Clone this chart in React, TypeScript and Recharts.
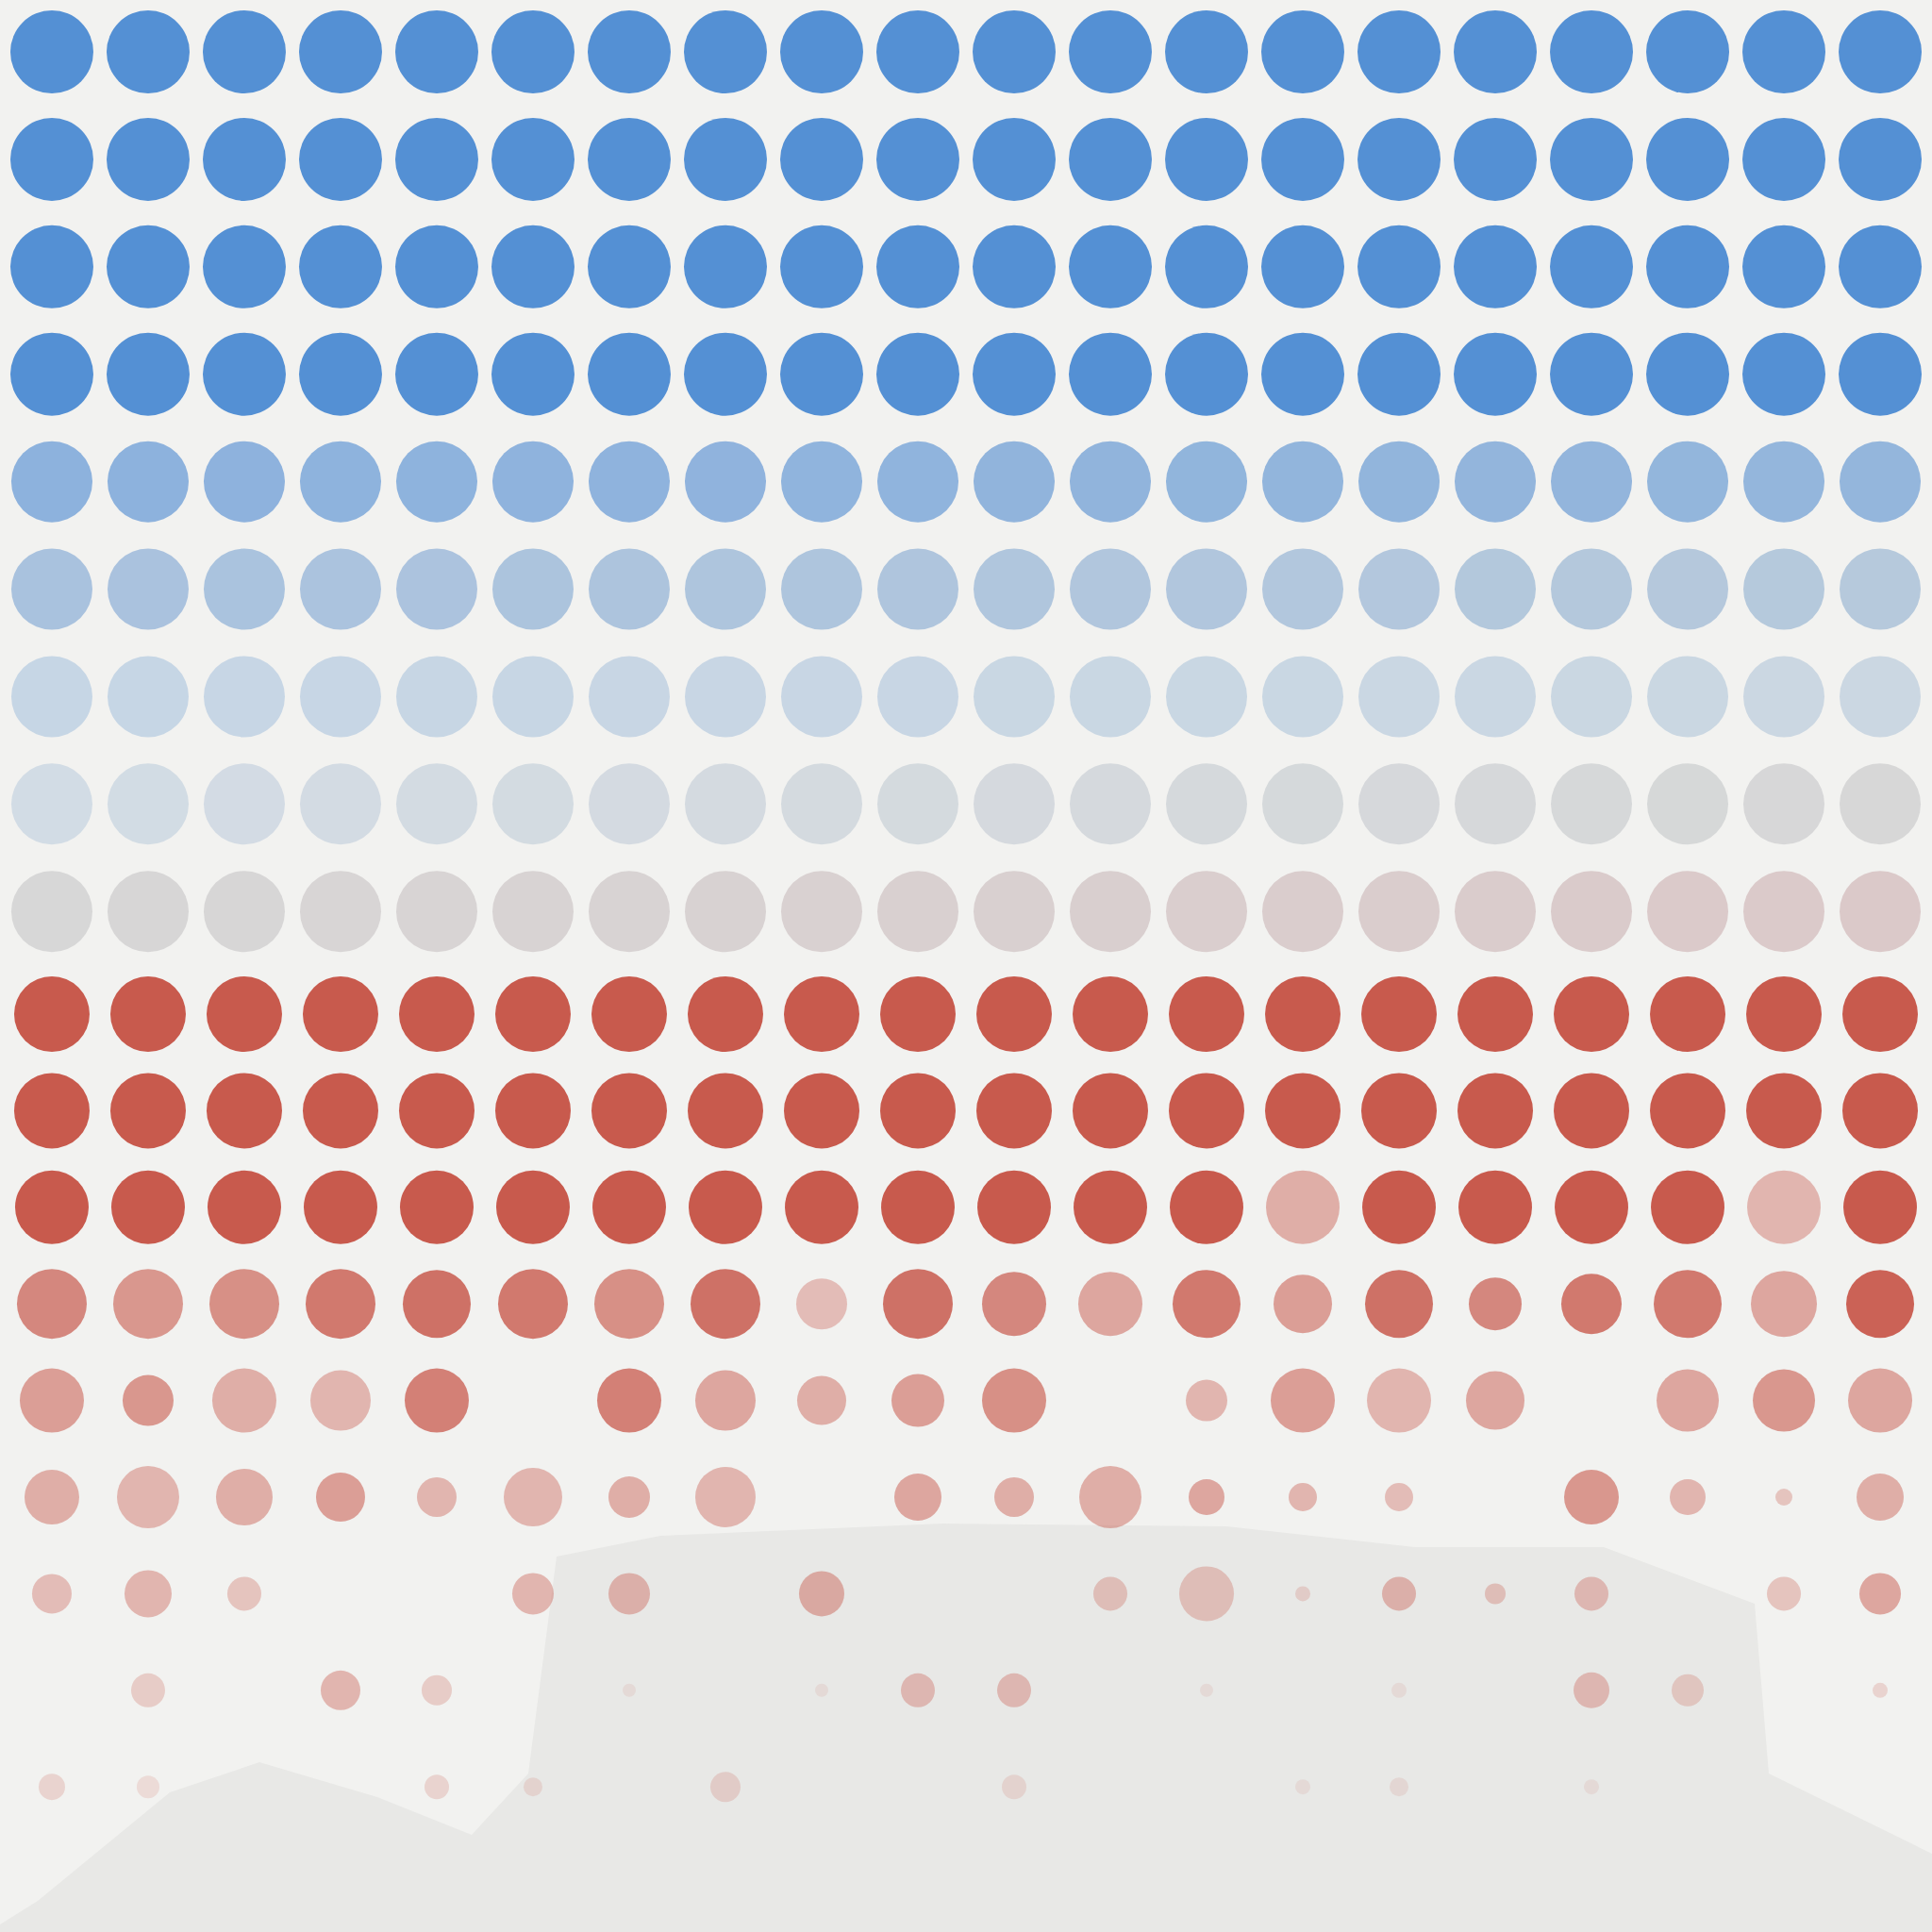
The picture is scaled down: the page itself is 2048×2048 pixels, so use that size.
import { ScatterChart, Scatter, XAxis, YAxis, AreaChart, Area } from 'recharts';

// 20 columns, 9 cool rows on top, 9 warm rows below
const columns = [1, 2, 3, 4, 5, 6, 7, 8, 9, 10, 11, 12, 13, 14, 15, 16, 17, 18, 19, 20];

const coolRadius = [44, 44, 44, 44, 43, 43, 43, 43, 43];
// left / right colour of each cool row
const coolColors = [
  ['#5490d4', '#5490d4'],
  ['#5490d4', '#5490d4'],
  ['#5490d4', '#5490d4'],
  ['#5490d4', '#5490d4'],
  ['#8db2dd', '#94b6dc'],
  ['#a9c2de', '#b6c9dc'],
  ['#c6d6e5', '#cbd7e2'],
  ['#d2dce5', '#d7d7d7'],
  ['#d7d7d7', '#dbc9c9'],
];

const warmColor = '#c85a4d';

const warmRadius = [
  [40, 40, 40, 40, 40, 40, 40, 40, 40, 40, 40, 40, 40, 40, 40, 40, 40, 40, 40, 40],
  [40, 40, 40, 40, 40, 40, 40, 40, 40, 40, 40, 40, 40, 40, 40, 40, 40, 40, 40, 40],
  [39, 39, 39, 39, 39, 39, 39, 39, 39, 39, 39, 39, 39, 39, 39, 39, 39, 39, 39, 39],
  [37, 37, 37, 37, 36, 37, 37, 37, 27, 37, 34, 34, 36, 31, 36, 28, 32, 36, 35, 36],
  [34, 27, 34, 32, 34, 0, 34, 32, 26, 28, 34, 0, 22, 34, 34, 31, 0, 33, 33, 34],
  [29, 33, 30, 26, 21, 31, 22, 32, 0, 25, 21, 33, 19, 15, 15, 0, 29, 19, 9, 25],
  [21, 25, 18, 0, 0, 22, 22, 0, 24, 0, 0, 18, 29, 8, 18, 11, 18, 0, 18, 22],
  [0, 18, 0, 21, 16, 0, 7, 0, 7, 18, 18, 0, 7, 0, 8, 0, 19, 17, 0, 8],
  [14, 12, 0, 0, 13, 10, 0, 16, 0, 0, 13, 0, 0, 8, 10, 0, 8, 0, 0, 0],
];

const warmAlpha = [
  [1, 1, 1, 1, 1, 1, 1, 1, 1, 1, 1, 1, 1, 1, 1, 1, 1, 1, 1, 1],
  [1, 1, 1, 1, 1, 1, 1, 1, 1, 1, 1, 1, 1, 1, 1, 1, 1, 1, 1, 1],
  [1, 1, 1, 1, 1, 1, 1, 1, 1, 1, 1, 1, 1, 0.45, 1, 1, 1, 1, 0.4, 1],
  [0.7, 0.6, 0.65, 0.8, 0.85, 0.8, 0.65, 0.85, 0.35, 0.85, 0.7, 0.5, 0.8, 0.55, 0.85, 0.7, 0.8, 0.8, 0.5, 0.95],
  [0.55, 0.6, 0.45, 0.4, 0.75, 0, 0.75, 0.5, 0.45, 0.55, 0.65, 0, 0.4, 0.55, 0.4, 0.5, 0, 0.5, 0.6, 0.5],
  [0.45, 0.4, 0.45, 0.55, 0.4, 0.4, 0.45, 0.4, 0, 0.5, 0.45, 0.45, 0.5, 0.4, 0.35, 0, 0.6, 0.4, 0.3, 0.45],
  [0.35, 0.4, 0.3, 0, 0, 0.4, 0.4, 0, 0.45, 0, 0, 0.3, 0.3, 0.2, 0.4, 0.3, 0.35, 0, 0.3, 0.5],
  [0, 0.25, 0, 0.4, 0.25, 0, 0.1, 0, 0.1, 0.35, 0.35, 0, 0.1, 0, 0.1, 0, 0.35, 0.25, 0, 0.2],
  [0.2, 0.15, 0, 0, 0.2, 0.15, 0, 0.2, 0, 0, 0.15, 0, 0, 0.1, 0.12, 0, 0.1, 0, 0, 0],
];

// background hill silhouette (x, height from bottom)
const terrainX = [0, 40, 180, 275, 400, 500, 560, 590, 700, 1000, 1300, 1500, 1700, 1860, 1875, 2048];
const terrainH = [8, 33, 148, 180, 143, 103, 168, 398, 420, 433, 430, 408, 408, 348, 168, 83];

function mix(a: string, b: string, t: number) {
  const pa = [1, 3, 5].map((i) => parseInt(a.slice(i, i + 2), 16));
  const pb = [1, 3, 5].map((i) => parseInt(b.slice(i, i + 2), 16));
  const c = pa.map((v, i) => Math.round(v + (pb[i] - v) * t));
  return `rgb(${c[0]},${c[1]},${c[2]})`;
}

const coolPoints = coolRadius.flatMap((r, row) =>
  columns.map((col, i) => ({
    x: col,
    y: row + 1,
    r,
    a: 1,
    fill: mix(coolColors[row][0], coolColors[row][1], i / (columns.length - 1)),
  }))
);

const warmPoints = warmRadius.flatMap((rowR, row) =>
  columns.map((col, i) => ({ x: col, y: row + 1, r: rowR[i], a: warmAlpha[row][i], fill: warmColor }))
);

const terrain = terrainX.map((x, i) => ({ x, h: terrainH[i] }));

const Dot = (props: any) => {
  const { cx, cy, payload } = props;
  if (!payload.r) return <g />;
  return <circle cx={cx} cy={cy} r={payload.r} fill={payload.fill} fillOpacity={payload.a} />;
};

const noMargin = { top: 0, right: 0, bottom: 0, left: 0 };

export default function App() {
  return (
    <div style={{ position: 'absolute', top: 0, left: 0, width: 2048, height: 2048, background: '#f2f2f0' }}>
      <div style={{ position: 'absolute', top: 0, left: 0 }}>
        <AreaChart width={2048} height={2048} data={terrain} margin={noMargin}>
          <XAxis type="number" dataKey="x" domain={[0, 2048]} hide />
          <YAxis type="number" domain={[0, 2048]} hide />
          <Area type="linear" dataKey="h" fill="#e8e8e6" fillOpacity={1} stroke="none" isAnimationActive={false} />
        </AreaChart>
      </div>
      <div style={{ position: 'absolute', top: 0, left: 0 }}>
        <ScatterChart width={2048} height={1020} margin={noMargin}>
          <XAxis type="number" dataKey="x" domain={[0.461, 20.539]} hide />
          <YAxis type="number" dataKey="y" domain={[0.517, 9.472]} reversed hide />
          <Scatter data={coolPoints} shape={Dot} isAnimationActive={false} />
        </ScatterChart>
      </div>
      <div style={{ position: 'absolute', top: 1020, left: 0 }}>
        <ScatterChart width={2048} height={1028} margin={noMargin}>
          <XAxis type="number" dataKey="x" domain={[0.461, 20.539]} hide />
          <YAxis type="number" dataKey="y" domain={[0.463, 10.502]} reversed hide />
          <Scatter data={warmPoints} shape={Dot} isAnimationActive={false} />
        </ScatterChart>
      </div>
    </div>
  );
}
